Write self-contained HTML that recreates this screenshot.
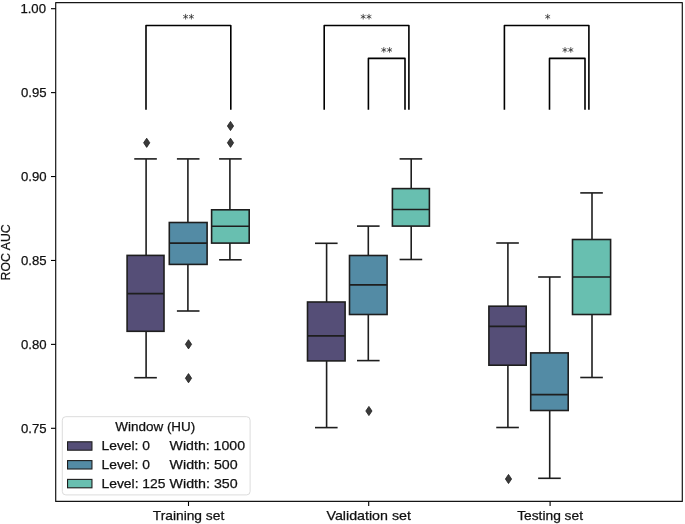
<!DOCTYPE html>
<html><head><meta charset="utf-8"><style>
html,body{margin:0;padding:0;background:#fff;}
svg{display:block;will-change:transform;}
text{font-family:"Liberation Sans", sans-serif;font-size:13px;fill:#111;stroke:#111;stroke-width:0.25px;}
</style></head><body>
<svg width="685" height="524" viewBox="0 0 685 524">
<rect width="685" height="524" fill="#fff"/>
<g stroke="#1e1e1e" stroke-width="1.6" fill="none">
<line x1="146.10" y1="158.90" x2="146.10" y2="255.40" />
<line x1="146.10" y1="331.30" x2="146.10" y2="377.70" />
<line x1="134.25" y1="158.90" x2="156.85" y2="158.90" />
<line x1="134.25" y1="377.70" x2="156.85" y2="377.70" />
<rect x="127.10" y="255.40" width="36.90" height="75.90" fill="#554e77" />
<line x1="127.10" y1="293.60" x2="164.00" y2="293.60" />
<path d="M146.70 138.20L149.80 142.80L146.70 147.40L143.60 142.80Z" fill="#3a3a3a" stroke="#1e1e1e" stroke-width="0.8"/>
<line x1="187.90" y1="158.90" x2="187.90" y2="222.50" />
<line x1="187.90" y1="264.40" x2="187.90" y2="311.00" />
<line x1="176.90" y1="158.90" x2="199.50" y2="158.90" />
<line x1="176.90" y1="311.00" x2="199.50" y2="311.00" />
<rect x="169.30" y="222.50" width="37.80" height="41.90" fill="#538ba5" />
<line x1="169.30" y1="243.10" x2="207.10" y2="243.10" />
<path d="M188.50 339.70L191.60 344.30L188.50 348.90L185.40 344.30Z" fill="#3a3a3a" stroke="#1e1e1e" stroke-width="0.8"/>
<path d="M188.50 373.60L191.60 378.20L188.50 382.80L185.40 378.20Z" fill="#3a3a3a" stroke="#1e1e1e" stroke-width="0.8"/>
<line x1="229.90" y1="158.90" x2="229.90" y2="209.80" />
<line x1="229.90" y1="243.10" x2="229.90" y2="259.80" />
<line x1="219.10" y1="158.90" x2="241.70" y2="158.90" />
<line x1="219.10" y1="259.80" x2="241.70" y2="259.80" />
<rect x="211.60" y="209.80" width="37.60" height="33.30" fill="#68bfb0" />
<line x1="211.60" y1="226.20" x2="249.20" y2="226.20" />
<path d="M230.50 121.40L233.60 126.00L230.50 130.60L227.40 126.00Z" fill="#3a3a3a" stroke="#1e1e1e" stroke-width="0.8"/>
<path d="M230.50 138.20L233.60 142.80L230.50 147.40L227.40 142.80Z" fill="#3a3a3a" stroke="#1e1e1e" stroke-width="0.8"/>
<line x1="326.60" y1="243.30" x2="326.60" y2="302.00" />
<line x1="326.60" y1="360.90" x2="326.60" y2="427.60" />
<line x1="315.00" y1="243.30" x2="337.60" y2="243.30" />
<line x1="315.00" y1="427.60" x2="337.60" y2="427.60" />
<rect x="307.50" y="302.00" width="37.60" height="58.90" fill="#554e77" />
<line x1="307.50" y1="335.90" x2="345.10" y2="335.90" />
<line x1="368.30" y1="226.10" x2="368.30" y2="255.50" />
<line x1="368.30" y1="314.50" x2="368.30" y2="360.60" />
<line x1="357.00" y1="226.10" x2="379.60" y2="226.10" />
<line x1="357.00" y1="360.60" x2="379.60" y2="360.60" />
<rect x="349.50" y="255.50" width="37.60" height="59.00" fill="#538ba5" />
<line x1="349.50" y1="284.90" x2="387.10" y2="284.90" />
<path d="M368.90 406.40L372.00 411.00L368.90 415.60L365.80 411.00Z" fill="#3a3a3a" stroke="#1e1e1e" stroke-width="0.8"/>
<line x1="411.20" y1="158.90" x2="411.20" y2="188.60" />
<line x1="411.20" y1="226.10" x2="411.20" y2="259.50" />
<line x1="399.60" y1="158.90" x2="422.20" y2="158.90" />
<line x1="399.60" y1="259.50" x2="422.20" y2="259.50" />
<rect x="392.40" y="188.60" width="37.00" height="37.50" fill="#68bfb0" />
<line x1="392.40" y1="209.50" x2="429.40" y2="209.50" />
<line x1="507.90" y1="243.00" x2="507.90" y2="306.20" />
<line x1="507.90" y1="365.20" x2="507.90" y2="427.50" />
<line x1="496.25" y1="243.00" x2="518.85" y2="243.00" />
<line x1="496.25" y1="427.50" x2="518.85" y2="427.50" />
<rect x="488.90" y="306.20" width="37.30" height="59.00" fill="#554e77" />
<line x1="488.90" y1="326.40" x2="526.20" y2="326.40" />
<path d="M508.50 474.40L511.60 479.00L508.50 483.60L505.40 479.00Z" fill="#3a3a3a" stroke="#1e1e1e" stroke-width="0.8"/>
<line x1="549.70" y1="277.00" x2="549.70" y2="352.90" />
<line x1="549.70" y1="410.50" x2="549.70" y2="478.30" />
<line x1="538.15" y1="277.00" x2="560.75" y2="277.00" />
<line x1="538.15" y1="478.30" x2="560.75" y2="478.30" />
<rect x="530.70" y="352.90" width="37.50" height="57.60" fill="#538ba5" />
<line x1="530.70" y1="394.60" x2="568.20" y2="394.60" />
<line x1="592.00" y1="192.90" x2="592.00" y2="239.50" />
<line x1="592.00" y1="314.50" x2="592.00" y2="377.50" />
<line x1="580.25" y1="192.90" x2="602.85" y2="192.90" />
<line x1="580.25" y1="377.50" x2="602.85" y2="377.50" />
<rect x="572.50" y="239.50" width="38.10" height="75.00" fill="#68bfb0" />
<line x1="572.50" y1="277.00" x2="610.60" y2="277.00" />
</g>
<path d="M146.00 109.70V25.48H230.80V109.70" fill="none" stroke="#000" stroke-width="1.6" stroke-linejoin="round"/>
<path d="M185.60 19.50L185.60 13.90M183.18 18.10L188.02 15.30M183.18 15.30L188.02 18.10M191.40 19.50L191.40 13.90M188.98 18.10L193.82 15.30M188.98 15.30L193.82 18.10" fill="none" stroke="#2a2a2a" stroke-width="0.75"/>
<path d="M324.20 109.70V25.48H408.90V109.70" fill="none" stroke="#000" stroke-width="1.6" stroke-linejoin="round"/>
<path d="M363.20 19.50L363.20 13.90M360.78 18.10L365.62 15.30M360.78 15.30L365.62 18.10M369.00 19.50L369.00 13.90M366.58 18.10L371.42 15.30M366.58 15.30L371.42 18.10" fill="none" stroke="#2a2a2a" stroke-width="0.75"/>
<path d="M368.40 109.70V58.40H405.00V109.70" fill="none" stroke="#000" stroke-width="1.6" stroke-linejoin="round"/>
<path d="M383.80 52.70L383.80 47.10M381.38 51.30L386.22 48.50M381.38 48.50L386.22 51.30M389.60 52.70L389.60 47.10M387.18 51.30L392.02 48.50M387.18 48.50L392.02 51.30" fill="none" stroke="#2a2a2a" stroke-width="0.75"/>
<path d="M504.40 109.70V25.48H588.90V109.70" fill="none" stroke="#000" stroke-width="1.6" stroke-linejoin="round"/>
<path d="M547.70 19.50L547.70 13.90M545.28 18.10L550.12 15.30M545.28 15.30L550.12 18.10" fill="none" stroke="#2a2a2a" stroke-width="0.75"/>
<path d="M549.50 109.70V58.40H585.00V109.70" fill="none" stroke="#000" stroke-width="1.6" stroke-linejoin="round"/>
<path d="M565.00 52.70L565.00 47.10M562.58 51.30L567.42 48.50M562.58 48.50L567.42 51.30M570.80 52.70L570.80 47.10M568.38 51.30L573.22 48.50M568.38 48.50L573.22 51.30" fill="none" stroke="#2a2a2a" stroke-width="0.75"/>
<rect x="55.7" y="2.55" width="626.60" height="498.85" fill="none" stroke="#151515" stroke-width="1.2" stroke-linejoin="round"/>
<line x1="51" y1="8.70" x2="55.70" y2="8.70" stroke="#000" stroke-width="1.1"/>
<text x="46.0" y="13.40" text-anchor="end" textLength="25.6" lengthAdjust="spacingAndGlyphs">1.00</text>
<line x1="51" y1="92.62" x2="55.70" y2="92.62" stroke="#000" stroke-width="1.1"/>
<text x="46.6" y="97.32" text-anchor="end" textLength="25.6" lengthAdjust="spacingAndGlyphs">0.95</text>
<line x1="51" y1="176.54" x2="55.70" y2="176.54" stroke="#000" stroke-width="1.1"/>
<text x="46.6" y="181.24" text-anchor="end" textLength="25.6" lengthAdjust="spacingAndGlyphs">0.90</text>
<line x1="51" y1="260.46" x2="55.70" y2="260.46" stroke="#000" stroke-width="1.1"/>
<text x="46.6" y="265.16" text-anchor="end" textLength="25.6" lengthAdjust="spacingAndGlyphs">0.85</text>
<line x1="51" y1="344.38" x2="55.70" y2="344.38" stroke="#000" stroke-width="1.1"/>
<text x="46.6" y="349.08" text-anchor="end" textLength="25.6" lengthAdjust="spacingAndGlyphs">0.80</text>
<line x1="51" y1="428.30" x2="55.70" y2="428.30" stroke="#000" stroke-width="1.1"/>
<text x="46.6" y="433.00" text-anchor="end" textLength="25.6" lengthAdjust="spacingAndGlyphs">0.75</text>
<line x1="188.5" y1="501.4" x2="188.5" y2="506" stroke="#000" stroke-width="1.1"/>
<text x="188.5" y="519.7" text-anchor="middle" textLength="71.5" lengthAdjust="spacingAndGlyphs">Training set</text>
<line x1="368.7" y1="501.4" x2="368.7" y2="506" stroke="#000" stroke-width="1.1"/>
<text x="368.7" y="519.7" text-anchor="middle" textLength="84.5" lengthAdjust="spacingAndGlyphs">Validation set</text>
<line x1="550.1" y1="501.4" x2="550.1" y2="506" stroke="#000" stroke-width="1.1"/>
<text x="550.1" y="519.7" text-anchor="middle" textLength="65.8" lengthAdjust="spacingAndGlyphs">Testing set</text>
<text transform="translate(10.35,252.4) rotate(-90)" text-anchor="middle" style="font-size:13.4px" textLength="56.2" lengthAdjust="spacingAndGlyphs">ROC AUC</text>
<rect x="62.3" y="416.7" width="187.8" height="78.2" rx="3.5" ry="3.5" fill="#fff" fill-opacity="0.8" stroke="#dcdcdc" stroke-width="1"/>
<text x="155.3" y="431.4" text-anchor="middle" textLength="80" lengthAdjust="spacingAndGlyphs">Window (HU)</text>
<rect x="67.55" y="441.80" width="24.4" height="8.4" fill="#554e77" stroke="#1e1e1e" stroke-width="1.1"/>
<text x="101.5" y="450.00" textLength="48.5" lengthAdjust="spacingAndGlyphs">Level: 0</text>
<text x="169.6" y="450.00" textLength="75.5" lengthAdjust="spacingAndGlyphs">Width: 1000</text>
<rect x="67.55" y="460.60" width="24.4" height="8.4" fill="#538ba5" stroke="#1e1e1e" stroke-width="1.1"/>
<text x="101.5" y="468.80" textLength="48.5" lengthAdjust="spacingAndGlyphs">Level: 0</text>
<text x="169.6" y="468.80" textLength="68.1" lengthAdjust="spacingAndGlyphs">Width: 500</text>
<rect x="67.55" y="479.40" width="24.4" height="8.4" fill="#68bfb0" stroke="#1e1e1e" stroke-width="1.1"/>
<text x="101.5" y="487.60" textLength="64.0" lengthAdjust="spacingAndGlyphs">Level: 125</text>
<text x="169.6" y="487.60" textLength="68.1" lengthAdjust="spacingAndGlyphs">Width: 350</text>
</svg>
</body></html>
